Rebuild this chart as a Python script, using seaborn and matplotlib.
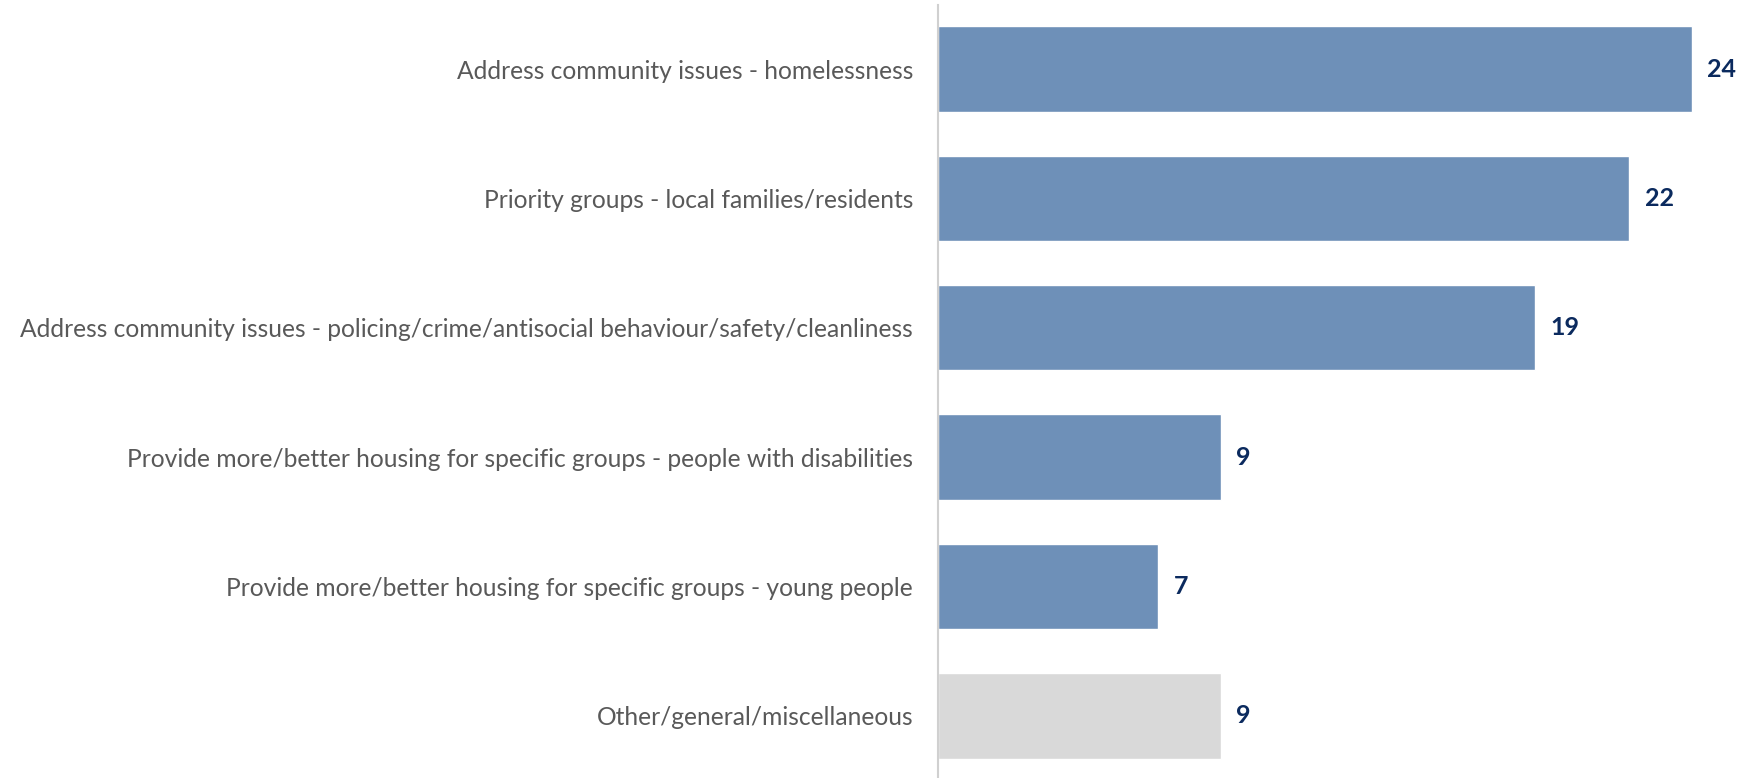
import matplotlib
matplotlib.use("Agg")
import matplotlib.pyplot as plt
import seaborn as sns
import pandas as pd

categories = [
    "Address community issues - homelessness",
    "Priority groups - local families/residents",
    "Address community issues - policing/crime/antisocial behaviour/safety/cleanliness",
    "Provide more/better housing for specific groups - people with disabilities",
    "Provide more/better housing for specific groups - young people",
    "Other/general/miscellaneous",
]
values = [24, 22, 19, 9, 7, 9]
bar_colors = ["#6E90B8", "#6E90B8", "#6E90B8", "#6E90B8", "#6E90B8", "#D9D9D9"]

df = pd.DataFrame({"category": categories, "value": values})

sns.set_style("white")
plt.rcParams["font.family"] = ["Lato", "DejaVu Sans"]

fig = plt.figure(figsize=(17.45, 7.78), dpi=100)
ax = fig.add_axes([938 / 1745, 0, 1 - 938 / 1745, 1 - 5 / 778])

sns.barplot(data=df, x="value", y="category", hue="category",
            palette=bar_colors, legend=False, width=0.66, ax=ax,
            saturation=1, orient="h")

for i, v in enumerate(values):
    ax.text(v + 0.5, i, str(v), va="center", ha="left",
            fontsize=18, fontweight="bold", color="#0B2A5E")

ax.set_xlim(0, 25.7)
ax.set_ylim(5.48, -0.495)
ax.set_xlabel("")
ax.set_ylabel("")
ax.set_xticks([])
ax.tick_params(axis="y", length=0, pad=18, labelsize=17.7, labelcolor="#595959")
for side in ["top", "right", "bottom"]:
    ax.spines[side].set_visible(False)
ax.spines["left"].set_color("#D0D0D0")
ax.spines["left"].set_linewidth(1.5)

fig.savefig("out.png", dpi=100)
